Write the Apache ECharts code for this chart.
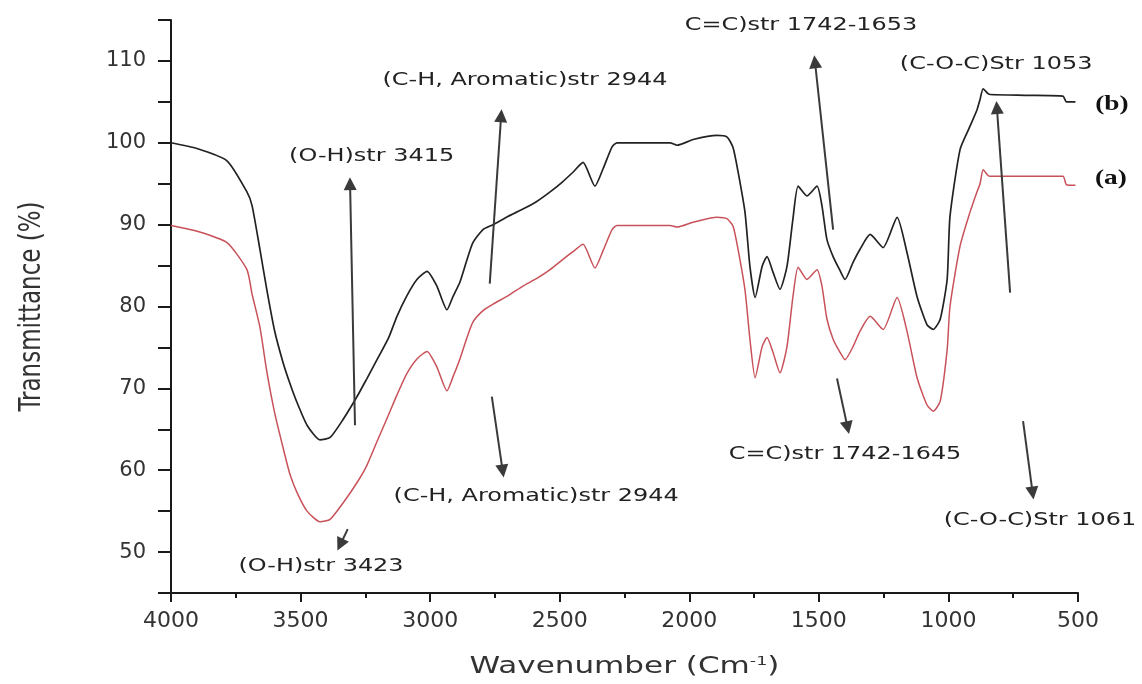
<!DOCTYPE html>
<html>
<head>
<meta charset="utf-8">
<script src="https://cdn.jsdelivr.net/npm/echarts@6/dist/echarts.min.js"></script>
<style>
  html, body { margin: 0; background: #fff; }
  #chart { width: 1142px; height: 684px; }
</style>
</head>
<body>
<div id="chart"></div>
<script>
// wavenumber (cm-1) and % transmittance
const wavenumber = [4000, 3900, 3784, 3707, 3687, 3657, 3630, 3600, 3568, 3541, 3514, 3475, 3425, 3386, 3336, 3282, 3244, 3205, 3160, 3128, 3090, 3051, 3012, 2974, 2935, 2912, 2885, 2860, 2835, 2796, 2757, 2700, 2642, 2590, 2537, 2490, 2449, 2410, 2364, 2333, 2298, 2279, 2150, 2074, 2047, 1985, 1893, 1854, 1831, 1812, 1785, 1766, 1746, 1719, 1700, 1677, 1650, 1623, 1600, 1580, 1546, 1507, 1488, 1469, 1445, 1420, 1399, 1368, 1341, 1302, 1252, 1198, 1160, 1121, 1083, 1059, 1032, 1005, 994, 955, 917, 890, 878, 866, 847, 839, 700, 558, 545, 510]
const transB = [100.0, 99.3, 97.8, 94.0, 92.3, 87.0, 82.0, 77.0, 73.2, 70.6, 68.3, 65.5, 63.7, 64.0, 66.2, 69.0, 71.2, 73.5, 76.2, 78.8, 81.3, 83.3, 84.3, 82.5, 79.6, 81.2, 83.0, 85.5, 87.8, 89.4, 90.0, 91.0, 91.9, 92.8, 94.0, 95.2, 96.4, 97.6, 94.7, 96.8, 99.5, 100.0, 100.0, 100.0, 99.7, 100.4, 100.9, 100.7, 99.4, 96.5, 91.5, 84.9, 81.1, 84.9, 86.1, 84.2, 82.1, 84.9, 90.7, 94.7, 93.5, 94.7, 92.3, 88.2, 86.1, 84.5, 83.3, 85.4, 87.0, 88.8, 87.2, 90.9, 86.6, 81.2, 77.8, 77.2, 78.4, 83.3, 91.0, 99.2, 102.0, 104.0, 105.3, 106.6, 106.0, 105.9, 105.8, 105.7, 105.0, 105.0]
const transA = [89.9, 89.2, 87.8, 84.5, 81.5, 77.5, 72.0, 67.0, 62.8, 59.5, 57.3, 55.0, 53.7, 54.0, 56.0, 58.5, 60.6, 63.5, 66.8, 69.2, 71.8, 73.6, 74.5, 72.6, 69.7, 71.4, 73.6, 76.0, 78.1, 79.5, 80.3, 81.3, 82.5, 83.4, 84.5, 85.7, 86.7, 87.6, 84.7, 86.8, 89.4, 89.9, 89.9, 89.9, 89.7, 90.3, 90.9, 90.7, 89.8, 87.0, 82.0, 76.0, 71.3, 75.1, 76.2, 74.4, 71.9, 75.1, 81.2, 84.8, 83.3, 84.5, 82.5, 78.5, 76.0, 74.5, 73.5, 75.1, 77.0, 78.8, 77.2, 81.1, 77.0, 71.3, 68.0, 67.2, 68.4, 74.7, 80.0, 87.4, 91.5, 94.0, 95.0, 96.7, 96.0, 95.9, 95.9, 95.9, 94.9, 94.8]

// band annotations, anchored in data coordinates [wavenumber, %T]
const bandLabels = [
  { text: '(O-H)str 3415', at: [3226, 98.4] },
  { text: '(C-H, Aromatic)str 2944', at: [2634, 107.6] },
  { text: 'C=C)str 1742-1653', at: [1569, 114.3] },
  { text: '(C-O-C)Str 1053', at: [816, 109.6] },
  { text: '(O-H)str 3423', at: [3421, 48.2] },
  { text: '(C-H, Aromatic)str 2944', at: [2591, 56.8] },
  { text: 'C=C)str 1742-1645', at: [1399, 61.9] },
  { text: '(C-O-C)Str 1061', at: [647, 53.9] }
]
const curveLabels = [
  { text: '(b)', at: [369, 104.7] },
  { text: '(a)', at: [373, 95.6] }
]
const arrows = [
  [[3290, 65.5], [3309, 95.0]],
  [[2770, 82.8], [2726, 103.3]],
  [[1445, 89.4], [1515, 109.9]],
  [[762, 81.7], [813, 104.3]],
  [[3318, 52.8], [3347, 50.9]],
  [[2762, 69.0], [2720, 59.9]],
  [[1430, 71.2], [1389, 65.2]],
  [[712, 66.0], [675, 57.2]]
]

const chart = echarts.init(document.getElementById('chart'))
const axisColor = '#1a1a1a'
const textColor = '#333'

chart.setOption({
  animation: false,
  backgroundColor: '#fff',
  grid: { left: 171, right: 64, top: 20, bottom: 91 },
  xAxis: {
    type: 'value',
    min: 500,
    max: 4000,
    interval: 500,
    inverse: true,
    axisLine: { lineStyle: { color: axisColor, width: 2 }},
    axisTick: { length: 9, lineStyle: { width: 2 }},
    minorTick: { show: true, splitNumber: 2, length: 5, lineStyle: { color: axisColor, width: 2 }},
    splitLine: { show: false },
    axisLabel: { margin: 17, color: textColor, fontSize: 22, fontFamily: 'DejaVu Sans', formatter: v => String(v) }
  },
  yAxis: {
    type: 'value',
    min: 45,
    max: 115,
    interval: 5,
    axisLine: { show: true, lineStyle: { color: axisColor, width: 2 }},
    axisTick: { show: true, length: 13, lineStyle: { width: 2 }},
    splitLine: { show: false },
    axisLabel: {
      margin: 25,
      color: textColor,
      fontSize: 21,
      fontFamily: 'DejaVu Sans',
      formatter: v => (v % 10 === 0 ? String(v) : '')
    }
  },
  series: [
    {
      name: '(b)',
      type: 'line',
      data: wavenumber.map((w, i) => [w, transB[i]]),
      showSymbol: false,
      smooth: 0.2,
      lineStyle: { color: '#222', width: 1.7 },
      markLine: {
        silent: true,
        symbol: ['none', 'triangle'],
        symbolSize: 13,
        label: { show: false },
        lineStyle: { color: '#3a3a3a', width: 2, type: 'solid' },
        data: arrows.map(([from, to]) => [{ coord: from }, { coord: to }])
      }
    },
    {
      name: '(a)',
      type: 'line',
      data: wavenumber.map((w, i) => [w, transA[i]]),
      showSymbol: false,
      smooth: 0.2,
      lineStyle: { color: '#c8525a', width: 1.5 }
    }
  ]
})

// text that is horizontally stretched in the source, placed via the axes' scales
const px = p => chart.convertToPixel({ gridIndex: 0 }, p)
const bottomLeft = px([4000, 45])
const topLeft = px([4000, 115])
const midX = px([2250, 45])[0]

const graphics = []
bandLabels.forEach(l => {
  const [x, y] = px(l.at)
  graphics.push({
    type: 'text', x, y, scaleX: 1.33, silent: true,
    style: { text: l.text, font: '18px "DejaVu Sans"', fill: '#222',
      align: 'center', verticalAlign: 'middle', textAlign: 'center', textVerticalAlign: 'middle' }
  })
})
curveLabels.forEach(l => {
  const [x, y] = px(l.at)
  graphics.push({
    type: 'text', x, y, scaleX: 1.3, silent: true,
    style: { text: l.text, font: 'bold 21px "Liberation Serif"', fill: '#111',
      align: 'center', verticalAlign: 'middle', textAlign: 'center', textVerticalAlign: 'middle' }
  })
})
// axis titles
graphics.push({
  type: 'text', x: midX, y: bottomLeft[1] + 74, scaleX: 1.35, silent: true,
  style: {
    text: 'Wavenumber (Cm{sup|-1})',
    font: '23px "DejaVu Sans"', fill: textColor,
    align: 'center', verticalAlign: 'middle', textAlign: 'center', textVerticalAlign: 'middle',
    rich: { sup: { font: '13px "DejaVu Sans"', fill: textColor, padding: [0, 0, 11, 0] }}
  }
})
graphics.push({
  type: 'text', x: bottomLeft[0] - 139, y: (bottomLeft[1] + topLeft[1]) / 2,
  rotation: Math.PI / 2, scaleY: 1.3, silent: true,
  style: { text: 'Transmittance (%)', font: '23px "DejaVu Sans"', fill: textColor,
    align: 'center', verticalAlign: 'middle', textAlign: 'center', textVerticalAlign: 'middle' }
})

chart.setOption({ graphic: { elements: graphics }})
</script>
</body>
</html>
